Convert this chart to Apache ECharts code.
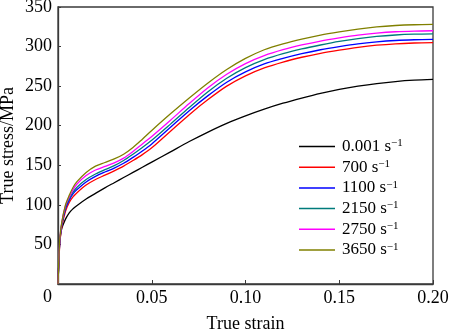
<!DOCTYPE html>
<html>
<head>
<meta charset="utf-8">
<script src="https://cdn.jsdelivr.net/npm/echarts@6/dist/echarts.min.js"></script>
<style>html,body{margin:0;padding:0;background:#fff}#c{width:450px;height:330px}</style>
</head>
<body>
<div id="c"></div>
<script>
const strain = [0, 0.0005, 0.001, 0.002, 0.004, 0.006, 0.008, 0.01, 0.015, 0.02, 0.025, 0.03, 0.035, 0.04, 0.045, 0.05, 0.06, 0.07, 0.08, 0.09, 0.10, 0.11, 0.12, 0.13, 0.14, 0.15, 0.16, 0.17, 0.18, 0.19, 0.20];
const rate0001 = [0, 30, 55, 70, 82, 90, 95, 99, 107.5, 114.5, 121.5, 128, 134.5, 141, 147.5, 154, 167, 180, 192, 203, 212.5, 221, 228.5, 235, 241, 246, 250, 253.3, 255.8, 257.5, 258.5];
const rate700 = [0, 30, 52, 72, 92, 103, 110, 115, 125, 132, 137.5, 143, 149, 156, 163.5, 172, 193, 214, 233, 250, 263, 273, 280.5, 286.5, 291.5, 295.5, 299, 301.7, 303.5, 304.5, 305];
const rate1100 = [0, 32, 54, 74, 95, 106, 114, 119, 129, 136, 141.5, 146.5, 152.5, 160, 168, 177, 198, 219, 238, 255, 268, 278, 285, 291, 296, 300, 303.5, 306, 307.7, 308.6, 309];
const rate2150 = [0, 33, 56, 76, 97, 108, 116, 122, 132, 139, 144.5, 149.5, 156, 164, 172.5, 181.5, 202, 223, 243, 260, 273.5, 283.5, 291, 297, 302, 306.5, 310, 312.8, 314.6, 315.6, 316];
const rate2750 = [0, 34, 57, 77, 99, 110, 119, 126, 137, 144, 148.5, 153, 159, 167.5, 177, 186.5, 207, 228, 248, 265, 278.5, 288.5, 296, 302, 307, 311, 314.5, 317, 318.7, 319.6, 320];
const rate3650 = [0, 35, 58, 78, 100, 112, 122, 129, 141, 149, 153.5, 158, 164, 172.5, 183, 194, 215, 235, 254, 271, 285, 296, 303.5, 309.5, 314.5, 318.5, 322, 324.8, 326.6, 327.6, 328];
const seriesNames = ['0.001', '700', '1100', '2150', '2750', '3650'];
const seriesColors = ['#000000', '#ff0000', '#0000ff', '#007b7b', '#ff00ff', '#808000'];
const allRates = [rate0001, rate700, rate1100, rate2150, rate2750, rate3650];

const font = 'Liberation Serif, Times New Roman, serif';
const chart = echarts.init(document.getElementById('c'));
chart.setOption({
  animation: false,
  grid: {left: 58, right: 17, top: 7, bottom: 46, containLabel: false, outerBoundsMode: 'none',
         show: true, borderColor: '#3a3a3a', borderWidth: 1.3},
  legend: {
    orient: 'vertical', left: 299, top: 138, padding: 0,
    icon: 'rect', itemWidth: 36, itemHeight: 1.5, itemGap: 1.7,
    data: seriesNames,
    formatter: n => '{n|' + n + ' s}{s|\u22121}',
    textStyle: {
      fontFamily: font, fontSize: 17, color: '#000', lineHeight: 17,
      rich: {n: {fontFamily: font, fontSize: 17, color: '#000', lineHeight: 17, padding: [0, 0, 0, 2]},
             s: {fontFamily: font, fontSize: 11, color: '#000', verticalAlign: 'top', lineHeight: 17, padding: [0, 0, 8, 0]}}
    }
  },
  xAxis: {
    type: 'value', min: 0, max: 0.2, interval: 0.05,
    name: 'True strain', nameLocation: 'middle', nameGap: 31, nameMoveOverlap: false,
    nameTextStyle: {fontFamily: font, fontSize: 18, color: '#000'},
    axisLine: {lineStyle: {color: '#3a3a3a', width: 1.3}},
    axisTick: {inside: true, length: 4, lineStyle: {color: '#3a3a3a'}},
    splitLine: {show: false},
    axisLabel: {fontFamily: font, fontSize: 18, color: '#000', margin: 5,
      formatter: v => v === 0 ? '' : v.toFixed(2)}
  },
  yAxis: {
    type: 'value', min: 0, max: 350, interval: 50,
    name: 'True stress/MPa', nameLocation: 'middle', nameGap: 41, nameMoveOverlap: false,
    nameTextStyle: {fontFamily: font, fontSize: 18, color: '#000'},
    axisLine: {lineStyle: {color: '#3a3a3a', width: 1.3}},
    axisTick: {inside: true, length: 3, lineStyle: {color: '#3a3a3a'}},
    splitLine: {show: false},
    axisLabel: {fontFamily: font, fontSize: 18, color: '#000', margin: 6,
      formatter: v => v === 0 ? '{z|0}' : String(v),
      rich: {z: {fontFamily: font, fontSize: 18, color: '#000', padding: [26, 0, 0, 0]}}}
  },
  series: seriesNames.map((n, i) => ({
    name: n, type: 'line', smooth: 0.3, symbol: 'none',
    lineStyle: {color: seriesColors[i], width: 1.3},
    itemStyle: {color: seriesColors[i]},
    data: strain.map((x, j) => [x, allRates[i][j]])
  }))
});
</script>
</body>
</html>
